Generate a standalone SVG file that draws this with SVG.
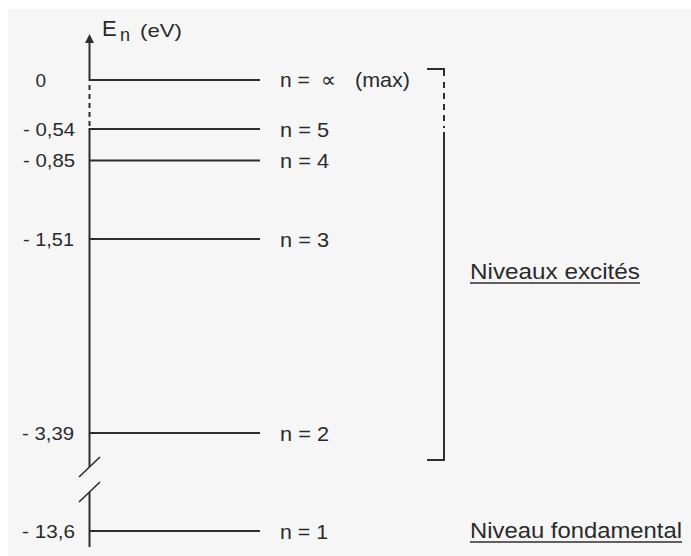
<svg xmlns="http://www.w3.org/2000/svg" width="691" height="556" viewBox="0 0 691 556">
<style>
.ln{stroke:#2e2e2e;stroke-width:2;fill:none}
.dash{stroke:#2e2e2e;stroke-width:2;fill:none;stroke-dasharray:5 4}
.t{font-family:"Liberation Sans",Arial,sans-serif;fill:#2a2a2a}
.val{font-size:19px;text-anchor:end}
.lab{font-size:21px}
.big{font-size:22px}
</style>
<rect x="0" y="0" width="691" height="556" fill="#ffffff"/>
<rect x="8" y="9" width="683" height="547" fill="#f6f6f6"/>
<g id="axis">
<polygon points="89.5,34 85,43 94,43" fill="#2e2e2e"/>
<line class="ln" x1="89.5" y1="42" x2="89.5" y2="81"/>
<line class="dash" x1="89.5" y1="85" x2="89.5" y2="127"/>
<line class="ln" x1="89.5" y1="128" x2="89.5" y2="467"/>
<line class="ln" x1="89.5" y1="492" x2="89.5" y2="547"/>
<line class="ln" x1="79" y1="477" x2="100" y2="457" style="stroke-width:1.6"/>
<line class="ln" x1="79" y1="502" x2="100" y2="482" style="stroke-width:1.6"/>
<text class="t" x="102" y="36" style="font-size:22px">E<tspan x="120" y="41" style="font-size:18px">n</tspan><tspan x="140" y="37" style="font-size:19px" textLength="42" lengthAdjust="spacingAndGlyphs">(eV)</tspan></text>
</g>
<g id="level-inf">
<line class="ln" x1="89.5" y1="80" x2="260" y2="80"/>
<text class="t val" x="46" y="86.5">0</text>
<text class="t lab" x="280" y="87">n =<tspan x="321">∝</tspan><tspan x="355" textLength="55" lengthAdjust="spacingAndGlyphs">(max)</tspan></text>
</g>
<g id="level-5">
<line class="ln" x1="89.5" y1="129" x2="260" y2="129"/>
<text class="t val" x="75" y="135.5" textLength="52" lengthAdjust="spacingAndGlyphs">- 0,54</text>
<text class="t lab" x="280" y="136.5" textLength="49" lengthAdjust="spacingAndGlyphs">n = 5</text>
</g>
<g id="level-4">
<line class="ln" x1="89.5" y1="160.5" x2="260" y2="160.5"/>
<text class="t val" x="75" y="167" textLength="52" lengthAdjust="spacingAndGlyphs">- 0,85</text>
<text class="t lab" x="280" y="168" textLength="49" lengthAdjust="spacingAndGlyphs">n = 4</text>
</g>
<g id="level-3">
<line class="ln" x1="89.5" y1="239" x2="260" y2="239"/>
<text class="t val" x="74" y="245.5" textLength="51" lengthAdjust="spacingAndGlyphs">- 1,51</text>
<text class="t lab" x="280" y="246.5" textLength="49" lengthAdjust="spacingAndGlyphs">n = 3</text>
</g>
<g id="level-2">
<line class="ln" x1="89.5" y1="433" x2="260" y2="433"/>
<text class="t val" x="74" y="439.5" textLength="52" lengthAdjust="spacingAndGlyphs">- 3,39</text>
<text class="t lab" x="280" y="440.5" textLength="49" lengthAdjust="spacingAndGlyphs">n = 2</text>
</g>
<g id="level-1">
<line class="ln" x1="89.5" y1="531" x2="260" y2="531"/>
<text class="t val" x="75" y="537.5" textLength="53" lengthAdjust="spacingAndGlyphs">- 13,6</text>
<text class="t lab" x="280" y="538.5" textLength="48" lengthAdjust="spacingAndGlyphs">n = 1</text>
</g>
<g id="bracket">
<polyline class="ln" points="427,69 444,69 444,76"/>
<line class="ln" x1="444" y1="82" x2="444" y2="128" style="stroke-dasharray:6 5"/>
<polyline class="ln" points="444,132 444,460 427,460"/>
</g>
<g id="excited">
<text class="t big" x="470" y="279" textLength="170" lengthAdjust="spacingAndGlyphs">Niveaux excités</text>
<line x1="470" y1="283" x2="640" y2="283" stroke="#2e2e2e" stroke-width="1.5"/>
</g>
<g id="ground">
<text class="t big" x="470" y="538" textLength="212" lengthAdjust="spacingAndGlyphs">Niveau fondamental</text>
<line x1="470" y1="542" x2="682" y2="542" stroke="#2e2e2e" stroke-width="1.5"/>
</g>
</svg>
